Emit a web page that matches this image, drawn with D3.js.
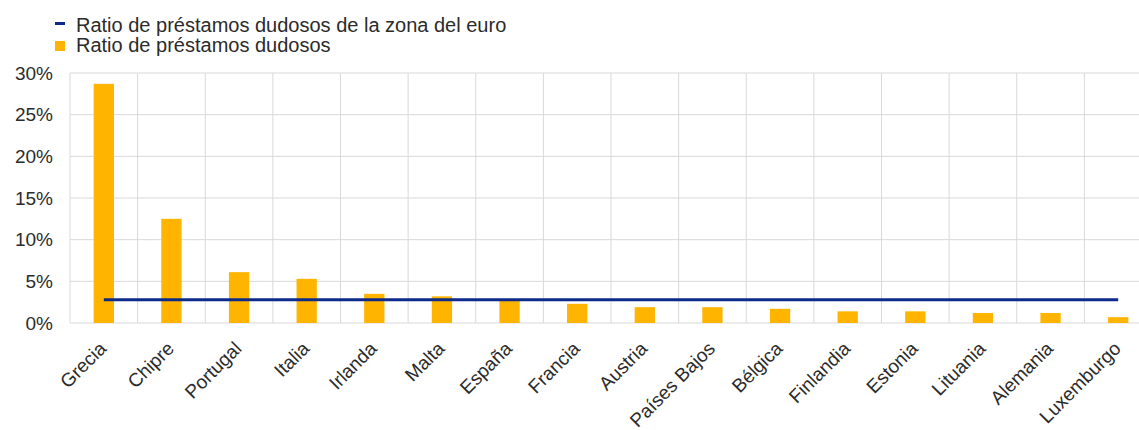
<!DOCTYPE html>
<html>
<head>
<meta charset="utf-8">
<script src="https://d3js.org/d3.v7.min.js"></script>
<style>
  body { margin: 0; background: #fff; font-family: 'Liberation Sans', Arial, sans-serif; }
  svg { display: block; }
  .grid line { stroke: #d9d9d9; stroke-width: 1; }
  .axis text { fill: #2b2b2b; font-size: 19px; }
  .legend text { fill: #2b2b2b; font-size: 20px; }
</style>
</head>
<body>
<script>
  // data
  var countries = ["Grecia", "Chipre", "Portugal", "Italia", "Irlanda", "Malta", "España", "Francia",
                   "Austria", "Países Bajos", "Bélgica", "Finlandia", "Estonia", "Lituania", "Alemania", "Luxemburgo"];
  var npl = [28.7, 12.5, 6.1, 5.3, 3.5, 3.2, 2.8, 2.3, 1.9, 1.9, 1.7, 1.4, 1.4, 1.2, 1.2, 0.7];
  var euroArea = 2.8;
  var yTicks = [0, 5, 10, 15, 20, 25, 30];
  var legendLabels = ["Ratio de préstamos dudosos de la zona del euro", "Ratio de préstamos dudosos"];

  var W = 1139, H = 430;
  var margin = {top: 73, left: 70, bottom: 107, right: -13};
  var width = W - margin.left - margin.right;
  var height = H - margin.top - margin.bottom;

  var blue = "#0b2a8a", yellow = "#ffb400";

  var svg = d3.select("body").append("svg")
      .attr("width", W)
      .attr("height", H);

  var g = svg.append("g")
      .attr("transform", "translate(" + margin.left + "," + margin.top + ")");

  var x = d3.scaleBand().domain(countries).range([0, width]);
  var y = d3.scaleLinear().domain([0, 30]).range([height, 0]);

  // horizontal grid
  g.append("g").attr("class", "grid")
    .selectAll("line").data(yTicks).enter().append("line")
      .attr("x1", 0).attr("x2", width)
      .attr("y1", function(d) { return y(d); })
      .attr("y2", function(d) { return y(d); });

  // vertical grid
  g.append("g").attr("class", "grid")
    .selectAll("line").data(countries.concat(["_end"])).enter().append("line")
      .attr("x1", function(d, i) { return i < countries.length ? x(d) : width; })
      .attr("x2", function(d, i) { return i < countries.length ? x(d) : width; })
      .attr("y1", 0).attr("y2", height);

  // y axis labels
  var yAxis = d3.axisLeft(y).tickValues(yTicks).tickSize(0).tickPadding(17)
      .tickFormat(function(d) { return d + "%"; });
  g.append("g").attr("class", "axis").call(yAxis)
    .call(function(s) { s.select(".domain").remove(); });

  // bars
  var bw = x.bandwidth() * 0.3;
  g.selectAll(".bar").data(npl).enter().append("rect")
      .attr("class", "bar")
      .attr("x", function(d, i) { return x(countries[i]) + x.bandwidth() / 2 - bw / 2; })
      .attr("y", function(d) { return y(d); })
      .attr("width", bw)
      .attr("height", function(d) { return height - y(d); })
      .attr("fill", yellow);

  // euro area line
  g.append("line")
      .attr("x1", x(countries[0]) + x.bandwidth() / 2)
      .attr("x2", x(countries[countries.length - 1]) + x.bandwidth() / 2)
      .attr("y1", y(euroArea)).attr("y2", y(euroArea))
      .attr("stroke", blue).attr("stroke-width", 3);

  // x labels
  g.append("g").attr("class", "axis")
    .selectAll("text").data(countries).enter().append("text")
      .attr("text-anchor", "end")
      .attr("transform", function(d) {
        return "translate(" + (x(d) + x.bandwidth() / 2 - 1) + "," + (height + 22) + ") rotate(-45)";
      })
      .attr("dy", "0.35em")
      .text(function(d) { return d; });

  // legend
  var legend = svg.append("g").attr("class", "legend");
  legend.append("rect")
      .attr("x", 55).attr("y", 22).attr("width", 10).attr("height", 3)
      .attr("fill", blue);
  legend.append("rect")
      .attr("x", 55).attr("y", 41).attr("width", 10).attr("height", 10)
      .attr("fill", yellow);
  legend.selectAll("text").data(legendLabels).enter().append("text")
      .attr("x", 76)
      .attr("y", function(d, i) { return 32 + i * 20; })
      .text(function(d) { return d; });
</script>
</body>
</html>
